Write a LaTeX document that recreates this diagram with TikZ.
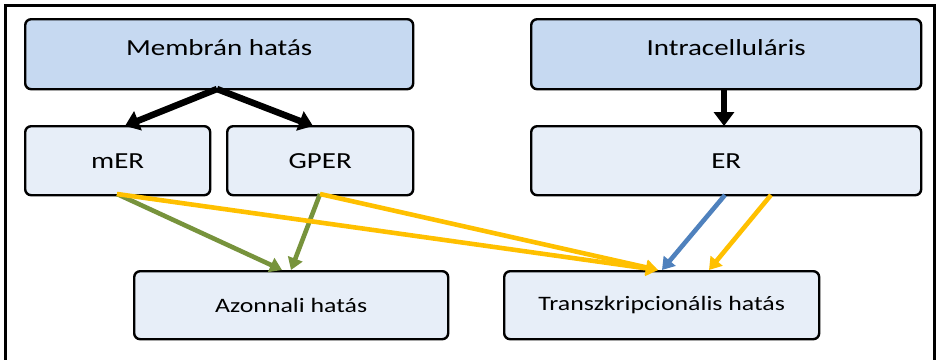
\documentclass[tikz,border=0pt]{standalone}
\usepackage{fontspec}
\setmainfont[FakeStretch=1.26]{Carlito}
\usetikzlibrary{arrows.meta}
\definecolor{topfill}{HTML}{C6D9F1}
\definecolor{botfill}{HTML}{E7EEF8}
\definecolor{ayellow}{HTML}{FFC000}
\definecolor{agreen}{HTML}{77933C}
\definecolor{ablue}{HTML}{4F81BD}
\tikzset{
  box/.style={draw=black, line width=2.4pt, rounded corners=6pt, inner sep=0pt, anchor=north west},
  topbox/.style={box, fill=topfill, font=\fontsize{23}{26}\selectfont, text depth=14pt},
  midbox/.style={box, fill=botfill, font=\fontsize{23}{26}\selectfont},
  lowbox/.style={box, fill=botfill, font=\fontsize{20.5}{24}\selectfont},
  blk/.style={line width=6.5pt, -{Triangle[length=14pt,width=20pt]}, black},
  col/.style={line width=4.6pt, -{Triangle[length=12pt,width=15pt]}},
}
\begin{document}
\begin{tikzpicture}[x=1pt,y=-1pt]
\useasboundingbox (0,0) rectangle (940,359);
\draw[line width=3pt] (5,362) -- (5,5) -- (934,5) -- (934,362);
\node[topbox, minimum width=388pt, minimum height=70pt] (mem) at (24,18) {Membrán hatás};
\node[midbox, minimum width=185pt, minimum height=69pt] (mer) at (24,125) {mER};
\node[midbox, minimum width=186pt, minimum height=69pt] (gper) at (226,125) {GPER};
\node[topbox, minimum width=390pt, minimum height=70pt] (intra) at (530,18) {Intracelluláris};
\node[midbox, minimum width=390pt, minimum height=69pt] (er) at (530,125) {ER};
\node[lowbox, minimum width=314pt, minimum height=68pt] (azo) at (133,270) {Azonnali hatás};
\node[lowbox, minimum width=315pt, minimum height=68pt] (tra) at (503,270) {Transzkripcionális hatás};
\coordinate (memb) at (217,89);
\coordinate (mert) at (125,126);
\coordinate (gpert) at (313,126);
\coordinate (intrab) at (724,89);
\coordinate (ert) at (724,126);
\coordinate (merb) at (117,194);
\coordinate (gperb) at (320,194);
\coordinate (erb1) at (725,195);
\coordinate (erb2) at (771,195);
\coordinate (azo1) at (282,270);
\coordinate (azo2) at (291,270);
\coordinate (tra1) at (658,270);
\coordinate (tra2) at (662,270);
\coordinate (tra3) at (709,270);
\draw[blk] (memb) -- (mert);
\draw[blk] (memb) -- (gpert);
\draw[blk] (intrab) -- (ert);
\draw[col, agreen] (merb) -- (azo1);
\draw[col, agreen] (gperb) -- (azo2);
\draw[col, ayellow] (merb) -- (tra1);
\draw[col, ayellow] (gperb) -- (tra1);
\draw[col, ablue] (erb1) -- (tra2);
\draw[col, ayellow] (erb2) -- (tra3);
\end{tikzpicture}
\end{document}
